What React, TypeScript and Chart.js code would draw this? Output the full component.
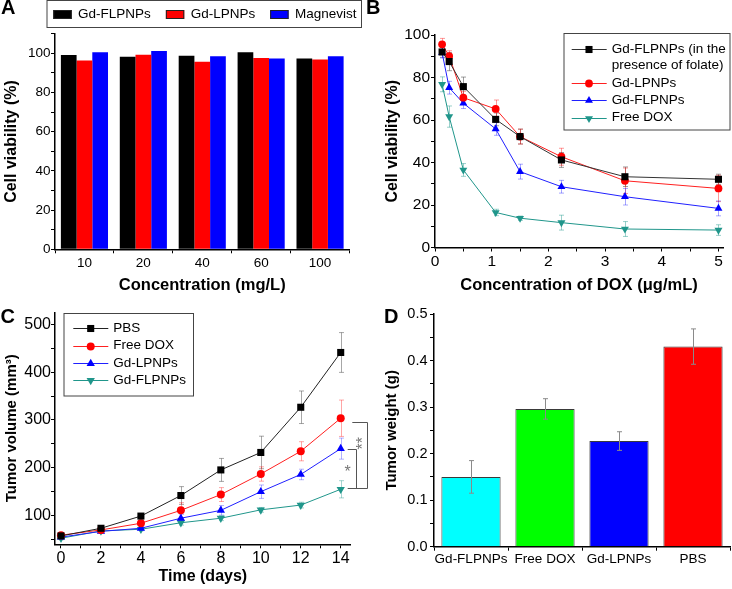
import React, { useEffect, useRef } from 'react';
import { Chart, registerables } from 'chart.js';

Chart.register(...registerables);

const FONT = "'Liberation Sans', Arial, Helvetica, sans-serif";

// ---------------- Panel A : cell viability vs Gd concentration
const concentrationsA = ['10', '20', '40', '60', '100'];
const gdFlpnpsA = [99.1, 98.3, 98.8, 100.5, 97.4];
const gdLpnpsA = [96.3, 99.3, 95.7, 97.6, 96.8];
const magnevistA = [100.5, 101.2, 98.5, 97.4, 98.5];

// ---------------- Panel B : cell viability vs DOX concentration
const doxConcB = [0.125, 0.25, 0.5, 1.07, 1.5, 2.23, 3.35, 5];
const folateB = [92, 87.5, 75.7, 60.3, 52.2, 41.2, 33.3, 32.1];
const folateErrB = [2.5, 4.3, 4.5, 3, 3.5, 3.5, 4.6, 2.4];
const lpnpsB = [95.6, 90.1, 70.5, 65.2, 52.2, 42.7, 31.4, 27.8];
const lpnpsErrB = [2.8, 2.5, 3, 4.2, 3.5, 4, 6, 6.2];
const flpnpsB = [91.7, 75.2, 67.9, 55.8, 35.7, 28.6, 23.9, 18.4];
const flpnpsErrB = [2.5, 3, 2.5, 3, 3.5, 3, 3.9, 3.5];
const freeDoxB = [76.8, 61.6, 36.5, 16.5, 13.8, 11.7, 8.7, 8.2];
const freeDoxErrB = [3.5, 5, 3, 1.5, 1, 3.5, 3.5, 2.5];

// ---------------- Panel C : tumor volume vs time
const daysC = [0, 2, 4, 6, 8, 10, 12, 14];
const pbsC = [57.5, 73.5, 99, 142, 195.5, 232, 326.5, 441];
const pbsErrC = [4, 5, 4, 18.6, 24, 34, 34, 41.6];
const freeDoxC = [59, 70, 84, 111, 144, 187, 234.5, 303.5];
const freeDoxErrC = [4, 5, 6, 16, 14.5, 15, 20, 38];
const lpnpsC = [55, 67, 73.5, 94.5, 111, 150, 186, 240];
const lpnpsErrC = [3, 4, 4, 8, 10, 14, 11, 22];
const flpnpsC = [52.6, 68, 71.4, 85, 94.5, 112, 122, 155];
const flpnpsErrC = [3, 3, 3, 5, 5, 5, 6, 18];
const sigTopC = [295, 240];
const sigBottomC = [158, 158];
const sigLabelC = ['**', '*'];

// ---------------- Panel D : tumor weight
const groupsD = ['Gd-FLPNPs', 'Free DOX', 'Gd-LPNPs', 'PBS'];
const weightD = [0.15, 0.296, 0.227, 0.43];
const weightErrD = [0.035, 0.022, 0.02, 0.038];

// ---------------- helpers
function drawMarker(ctx: CanvasRenderingContext2D, style: string, x: number, y: number, r: number, color: string, rotDeg = 0) {
  ctx.save();
  ctx.fillStyle = color;
  ctx.beginPath();
  if (style === 'rect') {
    const s = r * Math.SQRT1_2;
    ctx.rect(x - s, y - s, 2 * s, 2 * s);
  } else if (style === 'triangle') {
    let rad = (rotDeg * Math.PI) / 180;
    for (let k = 0; k < 3; k++) {
      const px = x + Math.sin(rad) * r;
      const py = y - Math.cos(rad) * r;
      if (k === 0) ctx.moveTo(px, py);
      else ctx.lineTo(px, py);
      rad += (2 * Math.PI) / 3;
    }
    ctx.closePath();
  } else {
    ctx.arc(x, y, r, 0, Math.PI * 2);
  }
  ctx.fill();
  ctx.restore();
}

function drawErrors(chart: any, o: any) {
  const ctx = chart.ctx as CanvasRenderingContext2D;
  chart.data.datasets.forEach((ds: any, di: number) => {
    if (!ds.errors) return;
    const meta = chart.getDatasetMeta(di);
    const ys = chart.scales[meta.yAxisID];
    ctx.save();
    ctx.strokeStyle = ds.errorColor || '#888';
    ctx.lineWidth = 1;
    meta.data.forEach((el: any, i: number) => {
      const raw = ds.data[i];
      const v = typeof raw === 'number' ? raw : raw.y;
      const e = ds.errors[i];
      const yt = ys.getPixelForValue(v + e);
      const yb = ys.getPixelForValue(v - e);
      const x = Math.round(el.x) + 0.5;
      const c = o.cap ?? 2.5;
      ctx.beginPath();
      ctx.moveTo(x, yt);
      ctx.lineTo(x, yb);
      ctx.moveTo(x - c, yt);
      ctx.lineTo(x + c, yt);
      ctx.moveTo(x - c, yb);
      ctx.lineTo(x + c, yb);
      ctx.stroke();
    });
    ctx.restore();
  });
}

const errorBarPlugin = {
  id: 'errorBars',
  beforeDatasetsDraw(chart: any, _a: any, o: any) {
    if (o && !o.after) drawErrors(chart, o);
  },
  afterDatasetsDraw(chart: any, _a: any, o: any) {
    if (o && o.after) drawErrors(chart, o);
  },
};

const panelLetterPlugin = {
  id: 'panelLetter',
  afterDraw(chart: any, _a: any, o: any) {
    if (!o || !o.text) return;
    const ctx = chart.ctx as CanvasRenderingContext2D;
    ctx.save();
    ctx.font = `bold 20px ${FONT}`;
    ctx.fillStyle = '#000';
    ctx.textBaseline = 'alphabetic';
    ctx.textAlign = 'left';
    ctx.fillText(o.text, o.x, o.y);
    ctx.restore();
  },
};

const swatchLegendPlugin = {
  id: 'swatchLegend',
  afterDraw(chart: any, _a: any, o: any) {
    if (!o || !o.box) return;
    const ctx = chart.ctx as CanvasRenderingContext2D;
    ctx.save();
    const [x1, y1, x2, y2] = o.box;
    ctx.strokeStyle = '#444';
    ctx.lineWidth = 1;
    ctx.strokeRect(x1, y1, x2 - x1, y2 - y1);
    ctx.font = `${o.fontSize}px ${FONT}`;
    ctx.textBaseline = 'middle';
    let x = o.startX;
    chart.data.datasets.forEach((ds: any) => {
      ctx.fillStyle = ds.backgroundColor;
      ctx.fillRect(x, o.cy - o.sh / 2, o.sw, o.sh);
      ctx.strokeStyle = '#222';
      ctx.strokeRect(x + 0.5, o.cy - o.sh / 2 + 0.5, o.sw - 1, o.sh - 1);
      x += o.sw + o.gap;
      ctx.fillStyle = '#000';
      ctx.fillText(ds.label, x, o.cy);
      x += ctx.measureText(ds.label).width + o.itemGap;
    });
    ctx.restore();
  },
};

const lineLegendPlugin = {
  id: 'lineLegend',
  afterDraw(chart: any, _a: any, o: any) {
    if (!o || !o.box) return;
    const ctx = chart.ctx as CanvasRenderingContext2D;
    ctx.save();
    const [x1, y1, x2, y2] = o.box;
    ctx.strokeStyle = '#444';
    ctx.lineWidth = 1;
    ctx.strokeRect(x1, y1, x2 - x1, y2 - y1);
    ctx.font = `${o.fontSize}px ${FONT}`;
    ctx.textBaseline = 'middle';
    let y = o.firstY;
    chart.data.datasets.forEach((ds: any) => {
      ctx.strokeStyle = ds.borderColor;
      ctx.lineWidth = 1;
      ctx.beginPath();
      ctx.moveTo(o.lx1, Math.round(y) + 0.5);
      ctx.lineTo(o.lx2, Math.round(y) + 0.5);
      ctx.stroke();
      drawMarker(ctx, ds.pointStyle, o.mx, Math.round(y) + 0.5, ds.pointRadius, ds.pointBackgroundColor, ds.pointRotation || 0);
      ctx.fillStyle = '#000';
      const lines = String(ds.label).split('\n');
      lines.forEach((ln, k) => ctx.fillText(ln, o.textX, y + k * o.lineH));
      y += (lines.length - 1) * o.lineH + o.rowStep;
    });
    ctx.restore();
  },
};

const sigPlugin = {
  id: 'sigBrackets',
  afterDraw(chart: any, _a: any, o: any) {
    if (!o || !o.items) return;
    const ctx = chart.ctx as CanvasRenderingContext2D;
    const ys = chart.scales.y;
    const right = chart.chartArea.right;
    o.items.forEach((it: any) => {
      const yt = Math.round(ys.getPixelForValue(it.top)) + 0.5;
      const yb = Math.round(ys.getPixelForValue(it.bottom)) + 0.5;
      const vx = Math.round(right + it.dx) + 0.5;
      const ax = right + it.armDx;
      ctx.save();
      ctx.strokeStyle = '#555';
      ctx.lineWidth = 1;
      ctx.beginPath();
      ctx.moveTo(ax, yt);
      ctx.lineTo(vx, yt);
      ctx.lineTo(vx, yb);
      ctx.lineTo(ax, yb);
      ctx.stroke();
      ctx.fillStyle = '#777';
      ctx.font = `16px ${FONT}`;
      ctx.textAlign = 'center';
      ctx.textBaseline = 'middle';
      ctx.translate(right + it.labelDx, (yt + yb) / 2 + it.labelDy);
      ctx.rotate(it.rot);
      ctx.fillText(it.text, 0, 0);
      ctx.restore();
    });
  },
};

function axis(extra: any) {
  const { ticks, grid, title, ...rest } = extra;
  return {
    border: { display: true, color: '#000', width: 1.5 },
    grid: {
      display: true,
      drawOnChartArea: false,
      drawTicks: true,
      tickLength: 4,
      tickColor: '#000',
      tickWidth: 1,
      ...(grid || {}),
    },
    ticks: {
      color: '#000',
      font: { size: 13 },
      maxRotation: 0,
      minRotation: 0,
      autoSkip: false,
      maxTicksLimit: 100,
      includeBounds: false,
      ...(ticks || {}),
    },
    title: title
      ? { display: true, color: '#000', padding: 0, ...title }
      : { display: false },
    ...rest,
  };
}

const baseOptions = (padding: any, plugins: any, scales: any) => ({
  animation: false,
  responsive: false,
  maintainAspectRatio: false,
  events: [],
  layout: { padding },
  plugins: {
    legend: { display: false },
    tooltip: { enabled: false },
    ...plugins,
  },
  scales,
});

function lineDs(label: string, xs: number[], ys: number[], errs: number[], color: string, lineColor: string, errColor: string, style: string, r: number, rot = 0) {
  return {
    label,
    data: xs.map((x, i) => ({ x, y: ys[i] })),
    borderColor: lineColor,
    backgroundColor: color,
    pointBackgroundColor: color,
    pointBorderColor: color,
    pointBorderWidth: 0,
    pointStyle: style,
    pointRadius: r,
    pointRotation: rot,
    borderWidth: 1,
    tension: 0,
    fill: false,
    clip: false,
    errors: errs,
    errorColor: errColor,
  };
}

// ---------------- configs
function configA(): any {
  return {
    type: 'bar',
    data: {
      labels: concentrationsA,
      datasets: [
        { label: 'Gd-FLPNPs', data: gdFlpnpsA, backgroundColor: '#000000' },
        { label: 'Gd-LPNPs', data: gdLpnpsA, backgroundColor: '#ff0000' },
        { label: 'Magnevist', data: magnevistA, backgroundColor: '#0000ff' },
      ].map((d) => ({ ...d, borderWidth: 0, categoryPercentage: 0.8, barPercentage: 1 })),
    },
    options: baseOptions(
      { left: 2.4, top: 33.7, right: 732 - 349.5, bottom: 589 - 294.9 },
      {
        panelLetter: { text: 'A', x: 1, y: 14 },
        swatchLegend: { box: [47, 0.5, 361.5, 27.5], startX: 53.3, cy: 14.5, sw: 18.4, sh: 9, gap: 6.4, itemGap: 15, fontSize: 13.5 },
      },
      {
        x: axis({
          type: 'category',
          offset: true,
          grid: { offset: true },
          ticks: { font: { size: 13.5 }, padding: 1.5 },
          title: { text: 'Concentration (mg/L)', font: { size: 16.5, weight: 'bold' } },
          afterFit: (s: any) => { s.height = 294.9 - 249.3; },
        }),
        y: axis({
          type: 'linear',
          min: 0,
          max: 110,
          ticks: {
            stepSize: 10,
            font: { size: 13.5 },
            padding: 0.5,
            callback: (v: number) => (v % 20 === 0 && v <= 100 ? String(v) : ''),
          },
          title: { text: 'Cell viability (%)', font: { size: 16, weight: 'bold' } },
          afterFit: (s: any) => { s.width = 55 - 2.4; },
        }),
      }
    ),
    plugins: [panelLetterPlugin, swatchLegendPlugin],
  };
}

function configB(): any {
  return {
    type: 'line',
    data: {
      datasets: [
        lineDs('Gd-FLPNPs (in the\npresence of folate)', doxConcB, folateB, folateErrB, '#000000', '#333333', 'rgba(80,80,80,0.55)', 'rect', 5),
        lineDs('Gd-LPNPs', doxConcB, lpnpsB, lpnpsErrB, '#ff0000', '#ff2020', 'rgba(255,0,0,0.4)', 'circle', 3.9),
        lineDs('Gd-FLPNPs', doxConcB, flpnpsB, flpnpsErrB, '#0000ff', '#2020ff', 'rgba(0,0,255,0.35)', 'triangle', 4.6),
        lineDs('Free DOX', doxConcB, freeDoxB, freeDoxErrB, '#20968b', '#20968b', 'rgba(32,150,139,0.45)', 'triangle', 4.6, 180),
      ],
    },
    options: baseOptions(
      { left: 393 - 9.6, top: 35, right: 732 - 723, bottom: 589 - 294.9 },
      {
        panelLetter: { text: 'B', x: 366, y: 14 },
        errorBars: { after: false, cap: 2.5 },
        lineLegend: { box: [564, 33.5, 730, 130], lx1: 571.7, lx2: 606.7, mx: 589, textX: 611.7, firstY: 49.3, lineH: 16.2, rowStep: 17.4, fontSize: 13.5 },
      },
      {
        x: axis({
          type: 'linear',
          min: 0,
          max: 5.08,
          ticks: { stepSize: 0.5, font: { size: 15.5 }, padding: 1, callback: (v: number) => (Number.isInteger(v) ? String(v) : '') },
          title: { text: 'Concentration of DOX (μg/mL)', font: { size: 16.5, weight: 'bold' } },
          afterFit: (s: any) => { s.height = 294.9 - 247.5; },
        }),
        y: axis({
          type: 'linear',
          min: 0,
          max: 100,
          ticks: { stepSize: 10, font: { size: 15.5 }, padding: 1, callback: (v: number) => (v % 20 === 0 ? String(v) : '') },
          title: { text: 'Cell viability (%)', font: { size: 16, weight: 'bold' } },
          afterFit: (s: any) => { s.width = 435 - (393 - 9.6); },
        }),
      }
    ),
    plugins: [errorBarPlugin, panelLetterPlugin, lineLegendPlugin],
  };
}

function configC(): any {
  const sigItems = sigTopC.map((top, i) =>
    i === 0
      ? { top, bottom: sigBottomC[i], text: sigLabelC[i], dx: 16.6, armDx: 1.6, labelDx: 13, labelDy: -12.3, rot: -Math.PI / 2 }
      : { top, bottom: sigBottomC[i], text: sigLabelC[i], dx: 5, armDx: -3, labelDx: -3, labelDy: 3.8, rot: 0 }
  );
  return {
    type: 'line',
    data: {
      datasets: [
        lineDs('PBS', daysC, pbsC, pbsErrC, '#000000', '#222222', 'rgba(80,80,80,0.5)', 'rect', 5),
        lineDs('Free DOX', daysC, freeDoxC, freeDoxErrC, '#ff0000', '#ff2020', 'rgba(255,0,0,0.35)', 'circle', 4),
        lineDs('Gd-LPNPs', daysC, lpnpsC, lpnpsErrC, '#0000ff', '#2020ff', 'rgba(0,0,255,0.3)', 'triangle', 4.8),
        lineDs('Gd-FLPNPs', daysC, flpnpsC, flpnpsErrC, '#20968b', '#20968b', 'rgba(32,150,139,0.4)', 'triangle', 4.8, 180),
      ],
    },
    options: baseOptions(
      { left: 2.7, top: 312.3, right: 732 - 350.7, bottom: 589 - 586.3 },
      {
        panelLetter: { text: 'C', x: 0.5, y: 322.5 },
        errorBars: { after: false, cap: 2.5 },
        lineLegend: { box: [64, 313.5, 193.5, 396], lx1: 73.3, lx2: 108.3, mx: 90.7, textX: 113.3, firstY: 328.3, lineH: 16.2, rowStep: 17.4, fontSize: 13.5 },
        sigBrackets: { items: sigItems },
      },
      {
        x: axis({
          type: 'linear',
          min: -0.3,
          max: 14.5,
          ticks: { stepSize: 1, font: { size: 16 }, padding: 0.5, callback: (v: number) => (v % 2 === 0 ? String(v) : '') },
          title: { text: 'Time (days)', font: { size: 16, weight: 'bold' } },
          afterFit: (s: any) => { s.height = 586.3 - 544.3; },
        }),
        y: axis({
          type: 'linear',
          min: 40,
          max: 525,
          ticks: { stepSize: 50, font: { size: 16 }, padding: 0, callback: (v: number) => (v % 100 === 0 ? String(v) : '') },
          title: { text: 'Tumor volume (mm³)', font: { size: 15, weight: 'bold' } },
          afterFit: (s: any) => { s.width = 55 - 2.7; },
        }),
      }
    ),
    plugins: [errorBarPlugin, panelLetterPlugin, lineLegendPlugin, sigPlugin],
  };
}

function configD(): any {
  return {
    type: 'bar',
    data: {
      labels: groupsD,
      datasets: [
        {
          label: 'Tumor weight',
          data: weightD,
          backgroundColor: ['#00ffff', '#00ff00', '#0000ff', '#ff0000'],
          borderColor: '#3a3a3a',
          borderWidth: 1,
          categoryPercentage: 0.8,
          barPercentage: 1,
          errors: weightErrD,
          errorColor: '#8a8a8a',
        },
      ],
    },
    options: baseOptions(
      { left: 382.7, top: 314, right: 2, bottom: 0 },
      {
        panelLetter: { text: 'D', x: 384, y: 322.5 },
        errorBars: { after: true, cap: 2.5 },
      },
      {
        x: axis({
          type: 'category',
          offset: true,
          grid: { offset: true },
          ticks: { font: { size: 13.5 }, padding: 0 },
          afterFit: (s: any) => { s.height = 589 - 546.7; },
        }),
        y: axis({
          type: 'linear',
          min: 0,
          max: 0.5,
          ticks: {
            stepSize: 0.05,
            font: { size: 14.5 },
            padding: 2.5,
            callback: (v: number) => (Math.abs(Math.round(v * 10) - v * 10) < 1e-6 ? v.toFixed(1) : ''),
          },
          title: { text: 'Tumor weight (g)', font: { size: 15, weight: 'bold' } },
          afterFit: (s: any) => { s.width = 434 - 382.7; },
        }),
      }
    ),
    plugins: [errorBarPlugin, panelLetterPlugin],
  };
}

export default function App() {
  const refA = useRef<HTMLCanvasElement>(null);
  const refB = useRef<HTMLCanvasElement>(null);
  const refC = useRef<HTMLCanvasElement>(null);
  const refD = useRef<HTMLCanvasElement>(null);

  useEffect(() => {
    Chart.defaults.font.family = FONT;
    Chart.defaults.color = '#000';
    const charts = [
      new Chart(refA.current as HTMLCanvasElement, configA()),
      new Chart(refB.current as HTMLCanvasElement, configB()),
      new Chart(refC.current as HTMLCanvasElement, configC()),
      new Chart(refD.current as HTMLCanvasElement, configD()),
    ];
    return () => charts.forEach((c) => c.destroy());
  }, []);

  const cs: React.CSSProperties = { position: 'absolute', left: 0, top: 0, width: 732, height: 589 };
  return (
    <div style={{ position: 'absolute', left: 0, top: 0, width: 732, height: 589, background: '#fff', overflow: 'hidden' }}>
      <canvas ref={refA} width={732} height={589} style={cs} />
      <canvas ref={refB} width={732} height={589} style={cs} />
      <canvas ref={refC} width={732} height={589} style={cs} />
      <canvas ref={refD} width={732} height={589} style={cs} />
    </div>
  );
}
